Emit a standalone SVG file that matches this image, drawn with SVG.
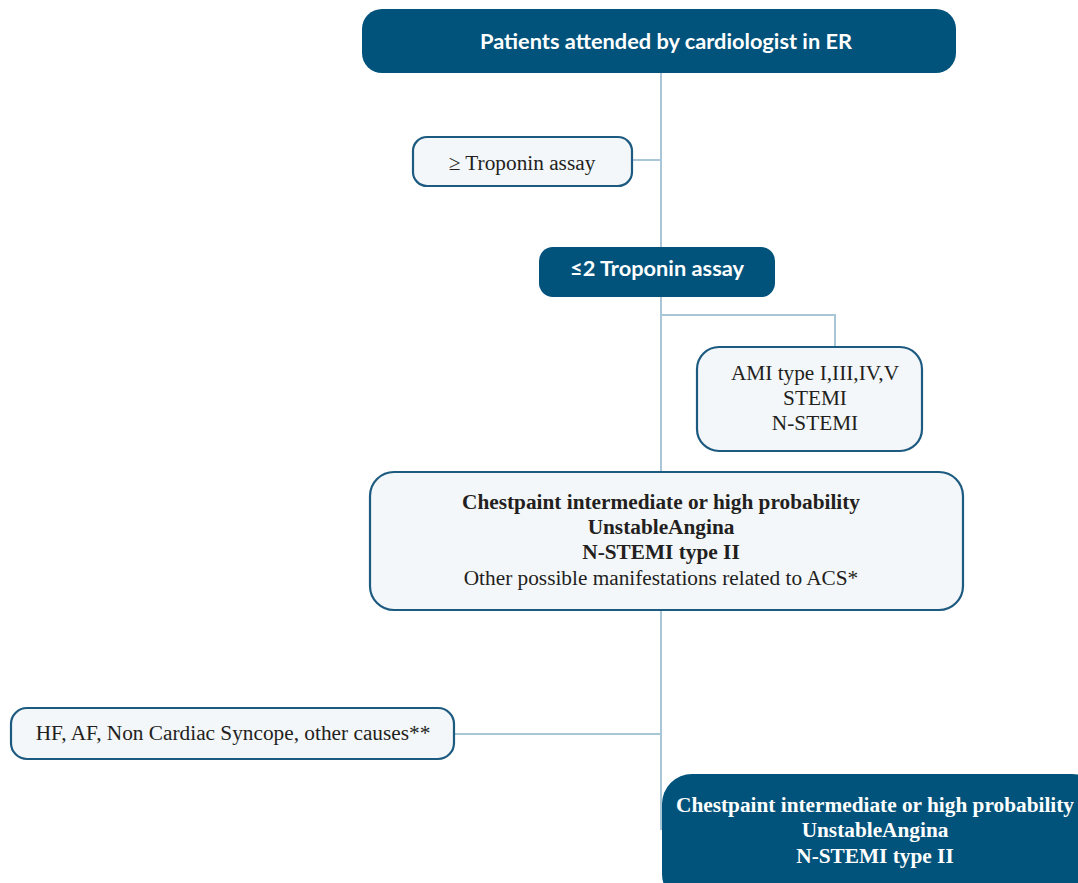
<svg xmlns="http://www.w3.org/2000/svg" width="1078" height="883" viewBox="0 0 1078 883">
<style>
.dark{fill:#02537b;}
.light{fill:#f3f7fa;stroke:#1d5a80;stroke-width:2.2;}
.conn{stroke:#a9c6d6;stroke-width:2;fill:none;}
.hs{font-family:Lato,"Open Sans",sans-serif;font-weight:bold;fill:#fff;font-size:20px;text-anchor:middle;}
.sr{font-family:"Liberation Serif","Times New Roman",serif;fill:#231f20;font-size:21.3px;text-anchor:middle;}
.b{font-weight:bold;}
.w{fill:#fff;font-weight:bold;}
</style>
<rect width="1078" height="883" fill="#fff"/>
<g id="connectors">
<path class="conn" d="M661 73 V830"/>
<path class="conn" d="M632 160 H661"/>
<path class="conn" d="M661 315 H835 V347"/>
<path class="conn" d="M454 734 H661"/>
</g>
<g id="n1">
<rect class="dark" x="362" y="9" width="594" height="64" rx="20"/>
<text class="hs" x="666" y="49" textLength="372" lengthAdjust="spacingAndGlyphs">Patients attended by cardiologist in ER</text>
</g>
<g id="n2">
<rect class="light" x="413" y="137" width="219" height="49" rx="14"/>
<text class="sr" x="522" y="170">≥ Troponin assay</text>
</g>
<g id="n3">
<rect class="dark" x="539" y="247" width="236" height="50" rx="14"/>
<text class="hs" x="657" y="276" textLength="174" lengthAdjust="spacingAndGlyphs">≤2 Troponin assay</text>
</g>
<g id="n4">
<rect class="light" x="697" y="347" width="225" height="104" rx="22"/>
<text class="sr" x="815" y="380">AMI type I,III,IV,V</text>
<text class="sr" x="815" y="405">STEMI</text>
<text class="sr" x="815" y="430">N-STEMI</text>
</g>
<g id="n5">
<rect class="light" x="370" y="472" width="593" height="138" rx="24"/>
<text class="sr b" x="661" y="509">Chestpaint intermediate or high probability</text>
<text class="sr b" x="661" y="534">UnstableAngina</text>
<text class="sr b" x="661" y="559">N-STEMI type II</text>
<text class="sr" x="661" y="585">Other possible manifestations related to ACS*</text>
</g>
<g id="n6">
<rect class="light" x="11" y="708" width="443" height="51" rx="16"/>
<text class="sr" x="233" y="740">HF, AF, Non Cardiac Syncope, other causes**</text>
</g>
<g id="n7">
<rect class="dark" x="662" y="774" width="440" height="130" rx="30"/>
<text class="sr w" x="875" y="812">Chestpaint intermediate or high probability</text>
<text class="sr w" x="875" y="837">UnstableAngina</text>
<text class="sr w" x="875" y="863">N-STEMI type II</text>
</g>
</svg>
